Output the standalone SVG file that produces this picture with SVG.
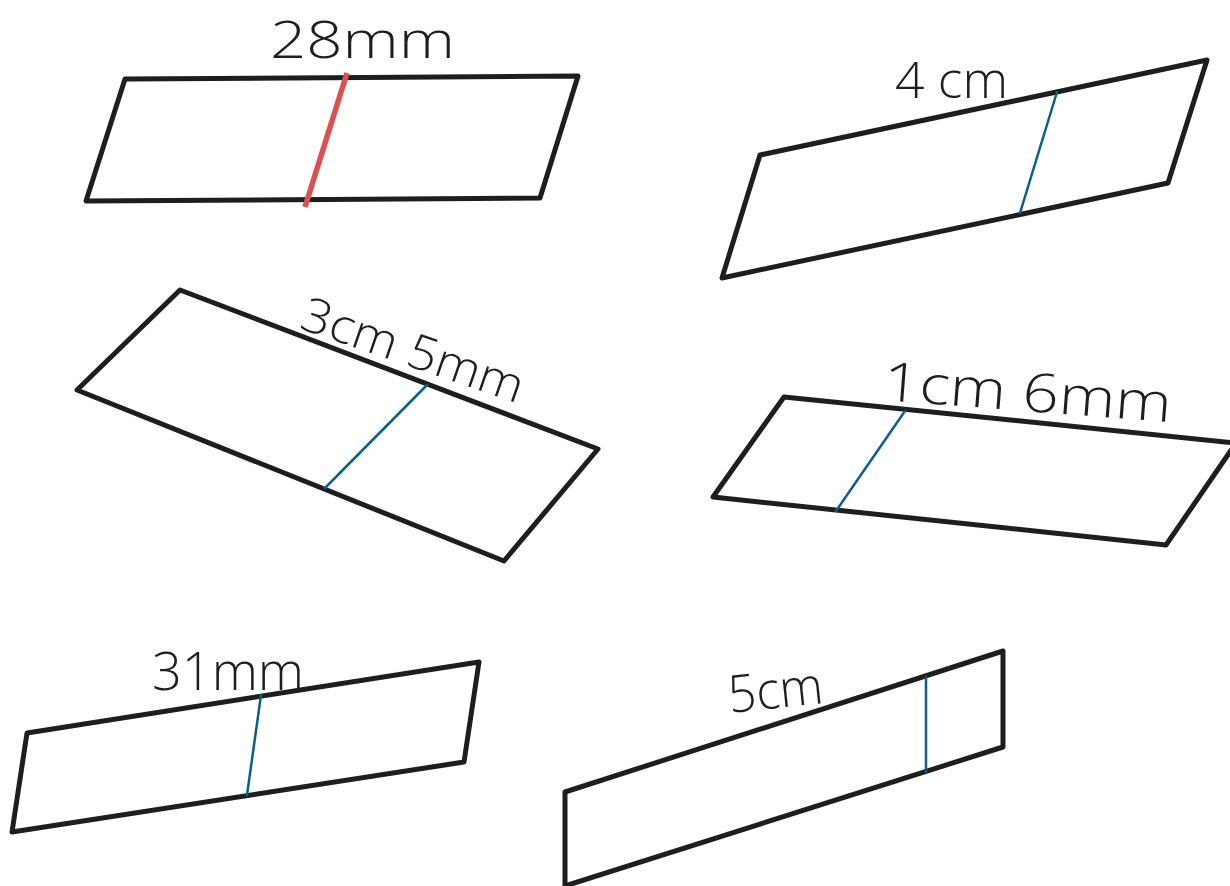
<svg xmlns="http://www.w3.org/2000/svg" width="1230" height="886" viewBox="0 0 1230 886">
<style>
.shape{fill:none;stroke:#1e1e1e;stroke-width:5;stroke-linejoin:round;stroke-linecap:round}
.h{fill:none;stroke:#0b5e8e;stroke-width:2.5;stroke-linecap:round}
.hr{fill:none;stroke:#dc5050;stroke-width:5.5;stroke-linecap:butt}
.lbl{font-family:"Open Sans","Liberation Sans",Arial,sans-serif;fill:#1e1e1e;font-weight:300}
</style>
<rect width="1230" height="886" fill="#ffffff"/>
<g id="p1">
<polygon class="shape" points="125,79 578,76 540,198 86,201"/>
<line class="hr" x1="347" y1="73" x2="305" y2="207"/>
<text class="lbl" x="270" y="58" font-size="52" textLength="185" lengthAdjust="spacingAndGlyphs">28mm</text>
</g>
<g id="p2">
<polygon class="shape" points="760,155 1207,60 1168,183 722,278"/>
<line class="h" x1="1057" y1="92" x2="1020" y2="213"/>
<text class="lbl" x="895" y="98" font-size="50" textLength="113" lengthAdjust="spacingAndGlyphs">4 cm</text>
</g>
<g id="p3">
<polygon class="shape" points="180,290 598,449 504,561 77,390"/>
<line class="h" x1="427" y1="385" x2="325" y2="488"/>
<text class="lbl" x="298" y="328" font-size="48" textLength="232" lengthAdjust="spacingAndGlyphs" transform="rotate(19 298 328)">3cm 5mm</text>
</g>
<g id="p4">
<polygon class="shape" points="784,397 1236,443 1166,545 713,497"/>
<line class="h" x1="905" y1="411" x2="836" y2="511"/>
<text class="lbl" x="882" y="400" font-size="54" textLength="289" lengthAdjust="spacingAndGlyphs" transform="rotate(4.4 882 400)">1cm 6mm</text>
</g>
<g id="p5">
<polygon class="shape" points="27,733 479,662 464,762 12,832"/>
<line class="h" x1="261" y1="695" x2="247" y2="795"/>
<text class="lbl" x="152" y="690" font-size="54" textLength="152" lengthAdjust="spacingAndGlyphs">31mm</text>
</g>
<g id="p6">
<polygon class="shape" points="565,792 1003,651 1003,747 565,886"/>
<line class="h" x1="926" y1="677" x2="926" y2="772"/>
<text class="lbl" x="730" y="713" font-size="52" textLength="95" lengthAdjust="spacingAndGlyphs" transform="rotate(-6 730 713)">5cm</text>
</g>
<g id="connectors"></g>
</svg>
